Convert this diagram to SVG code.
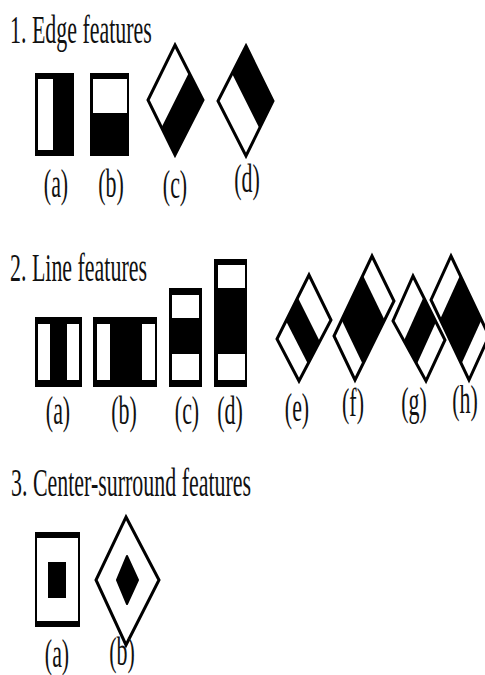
<svg xmlns="http://www.w3.org/2000/svg" width="485" height="675" viewBox="0 0 485 675">
<style>
.t{font-family:"Liberation Serif","Times New Roman",serif;font-size:41px;fill:#111}
.c{text-anchor:middle}
.k{fill:#000}
.w{fill:#fff}
.o{fill:none;stroke:#000;stroke-width:3;stroke-linejoin:miter;stroke-miterlimit:10}
.ow{fill:#fff;stroke:#000;stroke-width:3;stroke-linejoin:miter;stroke-miterlimit:10}
</style>
<rect width="485" height="675" fill="#fff"/>

<!-- Section 1 -->
<g id="title1"><text class="t" transform="translate(10,43) scale(0.535,1)">1. Edge features</text></g>
<g id="edge-a">
<rect class="k" x="35" y="73" width="39" height="83"/>
<rect class="w" x="38" y="79" width="15" height="71"/>
<text class="t c" transform="translate(56,197) scale(0.535,1)">(a)</text>
</g>
<g id="edge-b">
<rect class="k" x="90" y="73" width="39" height="83"/>
<rect class="w" x="93" y="79" width="34" height="34"/>
<text class="t c" transform="translate(111,197) scale(0.535,1)">(b)</text>
</g>
<g id="edge-c">
<polygon class="w" points="175,45 189,72.5 161.5,127.5 148,100"/>
<polygon class="k" points="189,72.5 203,100 175,155 161.5,127.5"/>
<polygon class="o" points="175,45 203,100 175,155 148,100"/>
<text class="t c" transform="translate(175,198) scale(0.535,1)">(c)</text>
</g>
<g id="edge-d">
<polygon class="w" points="218,101 232,73.5 259.5,128.5 246,156"/>
<polygon class="k" points="246,46 273,101 259.5,128.5 232,73.5"/>
<polygon class="o" points="246,46 273,101 246,156 218,101"/>
<text class="t c" transform="translate(247,192) scale(0.535,1)">(d)</text>
</g>

<!-- Section 2 -->
<g id="title2"><text class="t" transform="translate(10,281) scale(0.535,1)">2. Line features</text></g>
<g id="line-a">
<rect class="k" x="35" y="317" width="47" height="70"/>
<rect class="w" x="38" y="324" width="12" height="56"/>
<rect class="w" x="67" y="324" width="12" height="56"/>
<text class="t c" transform="translate(58,424) scale(0.535,1)">(a)</text>
</g>
<g id="line-b">
<rect class="k" x="93" y="317" width="64" height="70"/>
<rect class="w" x="97" y="324" width="13" height="56"/>
<rect class="w" x="142" y="324" width="13" height="56"/>
<text class="t c" transform="translate(124,424) scale(0.535,1)">(b)</text>
</g>
<g id="line-c">
<rect class="k" x="169" y="288" width="33" height="99"/>
<rect class="w" x="172" y="295" width="27" height="23"/>
<rect class="w" x="172" y="354" width="27" height="26"/>
<text class="t c" transform="translate(187,424) scale(0.535,1)">(c)</text>
</g>
<g id="line-d">
<rect class="k" x="214" y="259" width="33" height="128"/>
<rect class="w" x="218" y="265" width="27" height="23"/>
<rect class="w" x="218" y="354" width="27" height="26"/>
<text class="t c" transform="translate(230,424) scale(0.535,1)">(d)</text>
</g>
<g id="line-e">
<polygon class="w" points="309,275 331,320 299,381 277,339"/>
<polygon class="k" points="297.8,297.4 319.8,341.4 308,363.9 286,321.1"/>
<polygon class="o" points="309,275 331,320 299,381 277,339"/>
<text class="t c" transform="translate(297,421) scale(0.535,1)">(e)</text>
</g>
<g id="line-f">
<polygon class="w" points="372,256 394,301 355,380 334,336"/>
<polygon class="k" points="362.9,275.2 384.6,320 362.8,364.2 341.6,320"/>
<polygon class="o" points="372,256 394,301 355,380 334,336"/>
<text class="t c" transform="translate(353,416) scale(0.535,1)">(f)</text>
</g>
<g id="line-g">
<polygon class="w" points="413,276 445,340 426,381 393,321"/>
<polygon class="k" points="423.6,297.1 436,322.1 416.8,364.2 403.9,340.8"/>
<polygon class="o" points="413,276 445,340 426,381 393,321"/>
<text class="t c" transform="translate(414,415) scale(0.535,1)">(g)</text>
</g>
<g id="line-h">
<polygon class="w" points="451,256 489,336 469,380 431,300"/>
<polygon class="k" points="460.1,275.2 481.4,320 461.4,364 440.1,319.2"/>
<polygon class="o" points="451,256 489,336 469,380 431,300"/>
<text class="t c" transform="translate(465,413) scale(0.535,1)">(h)</text>
</g>

<!-- Section 3 -->
<g id="title3"><text class="t" transform="translate(11,496) scale(0.535,1)">3. Center-surround features</text></g>
<g id="center-a">
<rect class="k" x="35" y="532" width="45" height="95"/>
<rect class="w" x="37" y="538" width="41" height="83"/>
<rect class="k" x="48" y="562" width="18" height="36"/>
<text class="t c" transform="translate(57,667) scale(0.535,1)">(a)</text>
</g>
<g id="center-b">
<polygon class="ow" points="126,517 159,580 126,645 96,580"/>
<polygon class="k" stroke="#000" stroke-width="2" stroke-linejoin="round" points="127,556 138,580 127,604 117,580"/>
<text class="t c" transform="translate(122,665) scale(0.535,1)">(b)</text>
</g>
</svg>
